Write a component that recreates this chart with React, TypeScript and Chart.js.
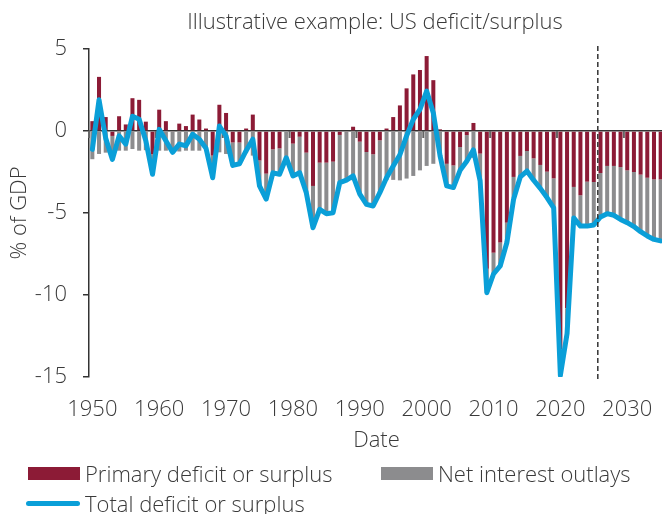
import React, { useEffect, useRef } from "react";
import { Chart, registerables } from "chart.js";

Chart.register(...registerables);

const years = [
  1950, 1951, 1952, 1953, 1954, 1955, 1956, 1957, 1958, 1959,
  1960, 1961, 1962, 1963, 1964, 1965, 1966, 1967, 1968, 1969,
  1970, 1971, 1972, 1973, 1974, 1975, 1976, 1977, 1978, 1979,
  1980, 1981, 1982, 1983, 1984, 1985, 1986, 1987, 1988, 1989,
  1990, 1991, 1992, 1993, 1994, 1995, 1996, 1997, 1998, 1999,
  2000, 2001, 2002, 2003, 2004, 2005, 2006, 2007, 2008, 2009,
  2010, 2011, 2012, 2013, 2014, 2015, 2016, 2017, 2018, 2019,
  2020, 2021, 2022, 2023, 2024, 2025, 2026, 2027, 2028, 2029,
  2030, 2031, 2032, 2033, 2034, 2035,
];

const primary = [
  0.6, 3.3, 0.85, -0.3, 0.9, 0.4, 2.0, 1.9, 0.57, -1.42,
  1.3, 0.6, -0.05, 0.45, 0.3, 1.0, 0.7, 0.15, -1.5, 1.6,
  1.1, -0.7, -0.7, 0.15, 1.0, -1.8, -2.6, -1.12, -1.06, 0.05,
  -0.77, -0.35, -1.32, -3.35, -1.93, -1.93, -1.87, -0.24, -0.05, 0.26,
  -0.65, -1.28, -1.42, -0.57, 0.15, 0.85, 1.56, 2.6, 3.45, 3.72,
  4.57, 3.1, 0.1, -2.0, -2.1, -0.98, -0.25, 0.49, -1.38, -8.4,
  -7.42, -6.8, -5.59, -2.8, -1.52, -1.22, -1.67, -2.07, -2.48, -2.89,
  -13.3, -10.8, -3.41, -3.92, -3.09, -3.11, -2.56, -2.13, -2.13, -2.2,
  -2.4, -2.5, -2.66, -2.85, -2.95, -2.95,
];

const interest = [
  -1.72, -1.4, -1.32, -1.43, -1.2, -1.2, -1.1, -1.2, -1.17, -1.22,
  -1.2, -1.2, -1.25, -1.25, -1.2, -1.2, -1.2, -1.2, -1.35, -1.3,
  -1.4, -1.4, -1.3, -1.35, -1.5, -1.55, -1.55, -1.43, -1.58, -1.68,
  -1.97, -2.19, -2.44, -2.55, -2.85, -3.11, -3.11, -2.91, -2.95, -3.0,
  -3.2, -3.19, -3.15, -3.19, -3.0, -2.98, -3.01, -2.9, -2.74, -2.4,
  -2.13, -2.0, -1.6, -1.35, -1.35, -1.42, -1.6, -1.64, -1.67, -1.46,
  -1.3, -1.45, -1.2, -1.3, -1.28, -1.22, -1.33, -1.43, -1.58, -1.79,
  -1.6, -1.55, -1.9, -1.88, -2.7, -2.62, -2.68, -2.91, -3.01, -3.19,
  -3.19, -3.33, -3.48, -3.55, -3.66, -3.75,
];

const total = [
  -1.12, 1.9, -0.45, -1.73, -0.3, -0.8, 0.9, 0.71, -0.6, -2.64,
  0.1, -0.6, -1.3, -0.8, -0.9, -0.2, -0.5, -1.05, -2.85, 0.3,
  -0.3, -2.1, -2.0, -1.2, -0.5, -3.35, -4.15, -2.55, -2.64, -1.63,
  -2.74, -2.54, -3.76, -5.9, -4.78, -5.04, -4.98, -3.15, -3.0, -2.74,
  -3.85, -4.47, -4.57, -3.76, -2.85, -2.13, -1.45, -0.3, 0.71, 1.32,
  2.44, 1.1, -1.5, -3.35, -3.45, -2.4, -1.85, -1.15, -3.05, -9.86,
  -8.72, -8.23, -6.8, -4.17, -2.8, -2.44, -3.0, -3.5, -4.06, -4.68,
  -14.9, -12.35, -5.3, -5.8, -5.8, -5.73, -5.24, -5.04, -5.14, -5.39,
  -5.59, -5.83, -6.14, -6.4, -6.61, -6.7,
];

const tickYears = [1950, 1960, 1970, 1980, 1990, 2000, 2010, 2020, 2030];
const projectionStart = 2025.6;

const RED = "#8c1b36";
const GRAY = "#8c8c8e";
const BLUE = "#0a9fd8";
const TEXT = "#3a3a3a";
const AXIS = "#333333";
const FONT_FAMILY = "'Open Sans', Lato, sans-serif";
const FONT_SIZE = 22;

const overlayPlugin = {
  id: "overlay",
  beforeDatasetsDraw(chart: any) {
    const { ctx, scales } = chart;
    const x = scales.x;
    const y = scales.y;
    const y0 = y.getPixelForValue(0);
    ctx.save();
    ctx.strokeStyle = "#666666";
    ctx.lineWidth = 2;
    tickYears.forEach((yr) => {
      const idx = years.indexOf(yr) - 0.5;
      const px = x.getPixelForValue(idx);
      ctx.beginPath();
      ctx.moveTo(px, y0);
      ctx.lineTo(px, y0 + 7);
      ctx.stroke();
    });
    ctx.restore();
  },
  afterDatasetsDraw(chart: any) {
    const { ctx, scales, chartArea } = chart;
    const x = scales.x;
    const idx = projectionStart - years[0];
    const px = x.getPixelForValue(idx);
    ctx.save();
    ctx.strokeStyle = AXIS;
    ctx.lineWidth = 1.5;
    ctx.setLineDash([5, 3]);
    ctx.beginPath();
    ctx.moveTo(px, chartArea.top - 3);
    ctx.lineTo(px, chartArea.bottom + 3);
    ctx.stroke();
    ctx.restore();
  },
};

export default function App() {
  const ref = useRef<HTMLCanvasElement>(null);

  useEffect(() => {
    if (!ref.current) return;
    const font = { family: FONT_FAMILY, size: FONT_SIZE, weight: "300" as any };
    const chart = new Chart(ref.current, {
      type: "bar",
      data: {
        labels: years.map(String),
        datasets: [
          {
            type: "line",
            label: "Total deficit or surplus",
            data: total,
            borderColor: BLUE,
            backgroundColor: BLUE,
            borderWidth: 5,
            pointRadius: 0,
            tension: 0,
            order: 0,
            stack: "total",
            borderJoinStyle: "round",
            borderCapStyle: "round",
          } as any,
          {
            type: "bar",
            label: "Primary deficit or surplus",
            data: primary,
            backgroundColor: RED,
            order: 1,
            stack: "bars",
            barPercentage: 0.6,
            categoryPercentage: 1,
          } as any,
          {
            type: "bar",
            label: "Net interest outlays",
            data: interest,
            backgroundColor: GRAY,
            order: 2,
            stack: "bars",
            barPercentage: 0.6,
            categoryPercentage: 1,
          } as any,
        ],
      },
      options: {
        animation: false,
        responsive: false,
        devicePixelRatio: 1,
        layout: { padding: { top: 49, bottom: 60, left: 0, right: 0 } },
        plugins: {
          legend: { display: false },
          title: { display: false },
          tooltip: { enabled: false },
        },
        scales: {
          x: {
            stacked: true,
            grid: { display: false, drawTicks: true, tickLength: 20 },
            border: { display: false },
            ticks: {
              autoSkip: false,
              maxRotation: 0,
              minRotation: 0,
              padding: 0,
              color: TEXT,
              font,
              callback: (_v: any, i: number) =>
                tickYears.includes(years[i]) ? String(years[i]) : "",
            },
            title: {
              display: true,
              text: "Date",
              color: TEXT,
              font,
              padding: { top: 7, bottom: 0 },
            },
            afterFit: (s: any) => {
              s.height = 77;
            },
          },
          y: {
            stacked: true,
            min: -15,
            max: 5,
            ticks: { stepSize: 5, padding: 16, color: TEXT, font },
            grid: {
              color: (c: any) =>
                c.tick && c.tick.value === 0 ? AXIS : "rgba(0,0,0,0)",
              lineWidth: 1.5,
              tickColor: AXIS,
              tickLength: 6,
              tickWidth: 1.5,
              drawOnChartArea: true,
              drawTicks: true,
            },
            border: { display: true, color: AXIS, width: 1.5 },
            title: {
              display: true,
              text: "% of GDP",
              color: TEXT,
              font,
              padding: { top: 7, bottom: 0 },
            },
            afterFit: (s: any) => {
              s.width = 89;
            },
          },
        },
      } as any,
      plugins: [overlayPlugin],
    });
    return () => chart.destroy();
  }, []);

  const textStyle: React.CSSProperties = {
    position: "absolute",
    fontFamily: FONT_FAMILY,
    fontSize: FONT_SIZE,
    fontWeight: 300,
    color: TEXT,
    lineHeight: "26px",
    whiteSpace: "nowrap",
  };

  return (
    <div
      style={{
        position: "absolute",
        left: 0,
        top: 0,
        width: 662,
        height: 514,
        overflow: "hidden",
        background: "#ffffff",
      }}
    >
      <canvas
        ref={ref}
        width={664}
        height={514}
        style={{ position: "absolute", left: 0, top: 0, width: 664, height: 514 }}
      />
      <div style={{ ...textStyle, left: 375, top: 7, transform: "translateX(-50%)" }}>
        Illustrative example: US deficit/surplus
      </div>
      <div style={{ position: "absolute", left: 28, top: 467, width: 52, height: 13, background: RED }} />
      <div style={{ ...textStyle, left: 85, top: 460 }}>Primary deficit or surplus</div>
      <div style={{ position: "absolute", left: 381, top: 467, width: 52, height: 13, background: GRAY }} />
      <div style={{ ...textStyle, left: 438, top: 460 }}>Net interest outlays</div>
      <div
        style={{
          position: "absolute",
          left: 26,
          top: 501,
          width: 54,
          height: 5,
          borderRadius: 3,
          background: BLUE,
        }}
      />
      <div style={{ ...textStyle, left: 85, top: 490 }}>Total deficit or surplus</div>
    </div>
  );
}
